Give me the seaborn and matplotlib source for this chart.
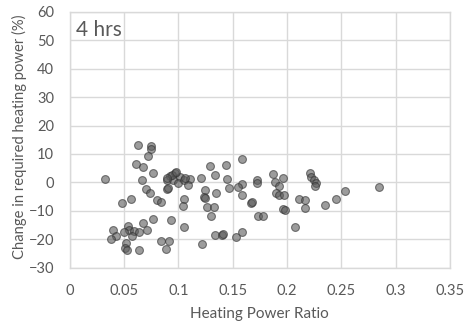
import numpy as np
import pandas as pd
import matplotlib
matplotlib.use("Agg")
import matplotlib.pyplot as plt
import seaborn as sns
from matplotlib.ticker import FuncFormatter

sns.set_theme(style="whitegrid")
plt.rcParams['font.family'] = ['Lato', 'DejaVu Sans']

# heating power ratio vs change in required heating power, 4 hrs case
ratio = [
    0.0632, 0.0752, 0.0752, 0.0724, 0.0608, 0.0678, 0.0764, 0.0329, 0.0669,
    0.0924, 0.0970, 0.1016, 0.0899, 0.0954, 0.1000, 0.1052, 0.1107, 0.1092, 0.0899,
    0.0940, 0.0976, 0.0893, 0.0908, 0.1062,
    0.1211, 0.1289, 0.1341, 0.1442, 0.1451, 0.1589, 0.1589, 0.1546, 0.1466, 0.1248, 0.1349,
    0.0700, 0.0740, 0.0483, 0.0565, 0.0801, 0.0841, 0.1055, 0.1040, 0.1240, 0.1245,
    0.1264, 0.1331, 0.1303, 0.1583, 0.1665, 0.1680, 0.1735,
    0.0770, 0.0933, 0.0676, 0.0716, 0.1050, 0.0403, 0.0540, 0.0550, 0.0504, 0.0593,
    0.0642, 0.0425, 0.0379, 0.0572, 0.0517, 0.0513, 0.0531, 0.0636, 0.0844, 0.0917,
    0.0890, 0.1221, 0.1341, 0.1402, 0.1414, 0.1528, 0.1583,
    0.1867, 0.1726, 0.1720, 0.1888, 0.1959, 0.1928, 0.1898, 0.1925, 0.1971,
    0.2210, 0.2219, 0.2246, 0.2271, 0.2255, 0.2531, 0.2850, 0.1775, 0.1965, 0.1977,
    0.2106, 0.2161, 0.2161, 0.2348, 0.2446, 0.2070,
]
change = [
    13.3, 12.8, 11.6, 9.4, 6.5, 5.3, 3.2, 1.1, 0.8,
    2.4, 3.2, 2.0, 0.8, 0.8, -0.1, 0.8, 1.2, -0.9, -2.4,
    2.6, 3.5, 1.4, -2.1, 1.4,
    1.4, 5.8, 2.7, 6.0, 1.1, 8.2, -0.6, -1.7, -2.1, -2.7, -3.6,
    -2.2, -3.8, -7.4, -5.7, -6.2, -6.9, -6.0, -8.4, -5.0, -5.6,
    -8.6, -8.6, -11.9, -4.4, -7.4, -6.8, -12.0,
    -12.8, -13.1, -14.3, -16.7, -15.8, -16.6, -15.3, -16.7, -17.4, -17.1,
    -17.3, -18.8, -19.9, -18.8, -21.2, -23.2, -23.8, -23.7, -20.8, -20.5,
    -23.4, -21.7, -18.5, -18.6, -18.0, -19.1, -17.4,
    3.0, 0.8, -0.3, 0.0, 1.4, -1.2, -3.6, -4.4, -4.4,
    3.2, 1.8, 0.8, -0.3, -1.3, -3.0, -1.6, -11.9, -9.4, -9.7,
    -5.8, -6.3, -9.0, -8.1, -5.7, -15.8,
]
x_ticks = [0, 0.05, 0.1, 0.15, 0.2, 0.25, 0.3, 0.35]
y_ticks = [-30, -20, -10, 0, 10, 20, 30, 40, 50, 60]

df = pd.DataFrame({"ratio": ratio, "change": change})

fig = plt.figure(figsize=(4.65, 3.28), dpi=100)
ax = fig.add_axes([0.1495, 0.184, 0.8185, 0.780])

sns.scatterplot(data=df, x="ratio", y="change", ax=ax, s=32,
                color="#5a5a5a", alpha=0.6, edgecolor="#303030", linewidth=0.8)

ax.set_xlim(0, 0.35)
ax.set_ylim(-30, 60)
ax.set_xticks(x_ticks)
ax.set_yticks(y_ticks)
ax.xaxis.set_major_formatter(FuncFormatter(lambda v, p: f"{v:g}"))
ax.grid(True, color="#d9d9d9", linewidth=1.0)
for sp in ax.spines.values():
    sp.set_color("#d9d9d9")
    sp.set_linewidth(1.0)
ax.tick_params(axis="x", length=0, labelsize=10.5, colors="#595959", pad=12)
ax.tick_params(axis="y", length=0, labelsize=10.5, colors="#595959", pad=11)
ax.set_xlabel("Heating Power Ratio", fontsize=11, color="#595959")
ax.set_ylabel("Change in required heating power (%)", fontsize=10.6, color="#595959")
ax.xaxis.set_label_coords(0.5, -0.155)
ax.yaxis.set_label_coords(-0.112, 0.51)
ax.text(0.018, 0.968, "4 hrs", transform=ax.transAxes, fontsize=15,
        color="#595959", va="top", ha="left")

fig.savefig("out.png", dpi=100)
